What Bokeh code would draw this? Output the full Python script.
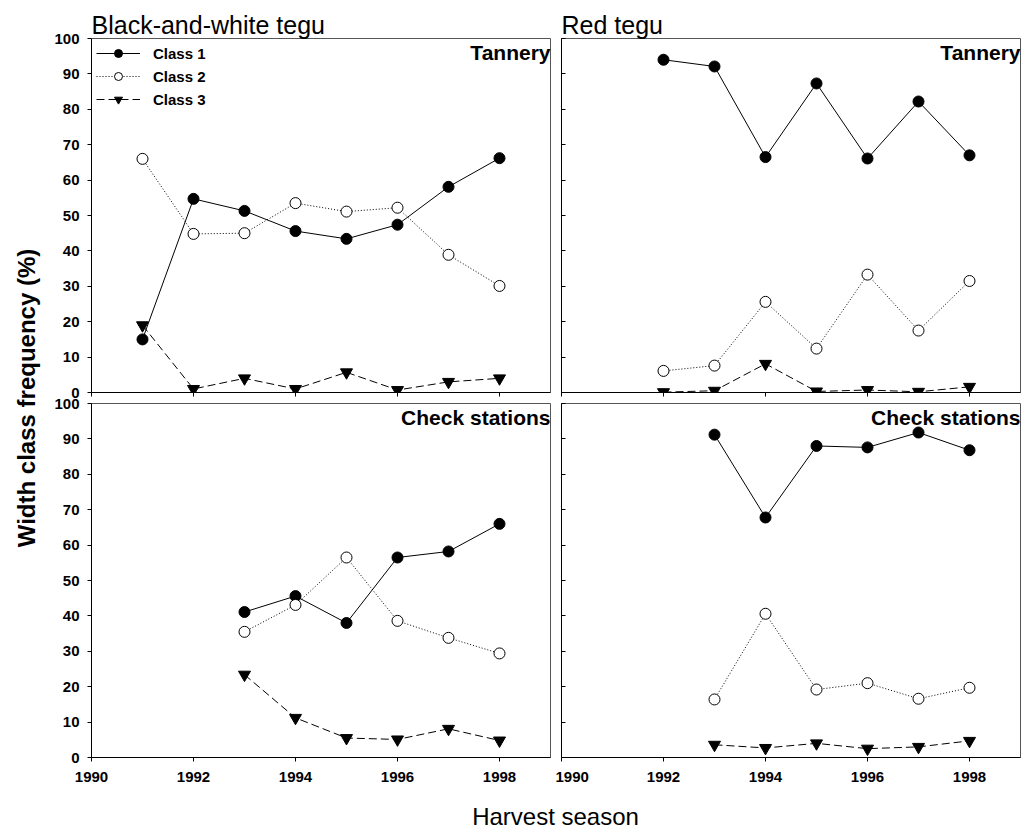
from math import pi
from bokeh.plotting import figure
from bokeh.layouts import row, column
from bokeh.models import Range1d, FixedTicker, Label, Legend, LegendItem
from bokeh.embed import file_html
from bokeh.resources import INLINE

# ---------------- data ----------------
years_bw_tannery = [1991, 1992, 1993, 1994, 1995, 1996, 1997, 1998]
bw_tannery_c1 = [15.0, 54.7, 51.3, 45.6, 43.4, 47.4, 58.1, 66.2]
bw_tannery_c2 = [66.0, 44.8, 45.0, 53.5, 51.1, 52.2, 38.9, 30.1]
bw_tannery_c3 = [19.0, 1.0, 4.0, 1.0, 5.7, 0.7, 3.0, 4.0]

years_red_tannery = [1992, 1993, 1994, 1995, 1996, 1997, 1998]
red_tannery_c1 = [94.0, 92.1, 66.5, 87.3, 66.1, 82.2, 67.0]
red_tannery_c2 = [6.1, 7.6, 25.6, 12.4, 33.3, 17.5, 31.5]
red_tannery_c3 = [0.1, 0.5, 8.1, 0.3, 0.7, 0.2, 1.6]

years_check = [1993, 1994, 1995, 1996, 1997, 1998]
bw_check_c1 = [41.1, 45.6, 38.0, 56.5, 58.2, 66.0]
bw_check_c2 = [35.5, 43.1, 56.5, 38.6, 33.8, 29.4]
bw_check_c3 = [23.4, 11.2, 5.5, 5.1, 8.1, 4.8]

red_check_c1 = [91.2, 67.8, 88.0, 87.6, 91.8, 86.8]
red_check_c2 = [16.4, 40.6, 19.2, 21.0, 16.6, 19.7]
red_check_c3 = [3.6, 2.7, 4.0, 2.5, 3.0, 4.7]

x_ticks = [1990, 1992, 1994, 1996, 1998]
y_ticks = [0, 10, 20, 30, 40, 50, 60, 70, 80, 90, 100]
class_names = ["Class 1", "Class 2", "Class 3"]

FONT = "Liberation Sans"
FRAME_W, FRAME_H = 459, 354


def make_panel(years, c1, c2, c3, title, tag, top, left, legend=False):
    p = figure(frame_width=FRAME_W, frame_height=FRAME_H,
               x_range=Range1d(1990, 1999), y_range=Range1d(0, 100),
               output_backend="svg", toolbar_location=None, tools="")
    p.min_border_left = 43 if left else 6
    p.min_border_right = 5 if left else 1
    p.min_border_top = 38 if top else 5
    p.min_border_bottom = 6 if top else 40
    p.grid.visible = False
    p.outline_line_color = "#555555"
    p.outline_line_width = 1

    for ax in (p.xaxis[0], p.yaxis[0]):
        ax.axis_line_color = "black"
        ax.axis_line_width = 1
        ax.major_tick_line_color = "black"
        ax.minor_tick_line_color = "black"
        ax.major_label_text_font = FONT
        ax.major_label_text_font_style = "bold"
        ax.major_label_text_font_size = "15px"
        ax.major_label_text_color = "black"

    # x axis: labelled only on the bottom row (unlabelled ticks drawn as minor ticks)
    if top:
        p.xaxis.ticker = FixedTicker(ticks=[], minor_ticks=x_ticks)
        p.xaxis.minor_tick_in = 0
        p.xaxis.minor_tick_out = 4
        p.xaxis.major_label_standoff = 0
    else:
        p.xaxis.ticker = FixedTicker(ticks=x_ticks, minor_ticks=[])
        p.xaxis.major_tick_in = 0
        p.xaxis.major_tick_out = 4
        p.xaxis.major_label_standoff = 10

    # y axis: labelled only on the left column; inside ticks on the right column
    if left:
        p.yaxis.ticker = FixedTicker(ticks=y_ticks, minor_ticks=[])
        p.yaxis.major_tick_in = 0
        p.yaxis.major_tick_out = 4
        p.yaxis.major_label_standoff = 8
    else:
        p.yaxis.ticker = FixedTicker(ticks=[], minor_ticks=y_ticks)
        p.yaxis.minor_tick_in = 4
        p.yaxis.minor_tick_out = 0
        p.yaxis.major_label_standoff = 0

    if title:
        p.title.text = title
        p.title.text_font = FONT
        p.title.text_font_style = "normal"
        p.title.text_font_size = "25px"
        p.title.text_color = "black"
        p.title.align = "left"
        p.title.standoff = 0
        p.title.offset = 0

    l1 = p.line(years, c1, line_color="black", line_width=1)
    s1 = p.scatter(years, c1, marker="circle", size=11, fill_color="black", line_color="black")
    l2 = p.line(years, c2, line_color="black", line_width=1, line_dash="1 2")
    s2 = p.scatter(years, c2, marker="circle", size=11, fill_color="white", line_color="black", line_width=1)
    l3 = p.line(years, c3, line_color="black", line_width=1, line_dash="8 4")
    s3 = p.scatter(years, c3, marker="inverted_triangle", size=12, fill_color="black", line_color="black")

    p.add_layout(Label(x=1999, y=100, text=tag, text_align="right", text_baseline="top",
                       y_offset=-2, text_font=FONT, text_font_style="bold",
                       text_font_size="21px", text_color="black"))

    if legend:
        items = [LegendItem(label=class_names[0], renderers=[l1, s1]),
                 LegendItem(label=class_names[1], renderers=[l2, s2]),
                 LegendItem(label=class_names[2], renderers=[l3, s3])]
        lg = Legend(items=items, location="top_left", border_line_color=None,
                    background_fill_alpha=0, label_text_font=FONT,
                    label_text_font_style="bold", label_text_font_size="15px",
                    label_text_color="black",
                    glyph_width=44, glyph_height=20, label_standoff=13, spacing=3,
                    padding=6, margin=5, label_height=20)
        p.add_layout(lg)
    return p


tl = make_panel(years_bw_tannery, bw_tannery_c1, bw_tannery_c2, bw_tannery_c3,
                "Black-and-white tegu", "Tannery", top=True, left=True, legend=True)
tr = make_panel(years_red_tannery, red_tannery_c1, red_tannery_c2, red_tannery_c3,
                "Red tegu", "Tannery", top=True, left=False)
bl = make_panel(years_check, bw_check_c1, bw_check_c2, bw_check_c3,
                None, "Check stations", top=False, left=True)
br = make_panel(years_check, red_check_c1, red_check_c2, red_check_c3,
                None, "Check stations", top=False, left=False)

TOTAL_H = 831
YL_W = 48
XL_W = 507 + 466
XL_H = 34


def blank(w, h):
    f = figure(width=w, height=h, x_range=Range1d(0, w), y_range=Range1d(0, h),
               output_backend="svg", toolbar_location=None, tools="",
               min_border=0, title=None)
    f.axis.visible = False
    f.grid.visible = False
    f.outline_line_color = None
    return f


ylab = blank(YL_W, TOTAL_H)
ylab.add_layout(Label(x=26, y=TOTAL_H - 397.5, text="Width class frequency (%)", angle=pi / 2,
                      text_align="center", text_baseline="middle", text_font=FONT,
                      text_font_style="bold", text_font_size="24px", text_color="black"))

xlab = blank(XL_W, XL_H)
xlab.add_layout(Label(x=507, y=XL_H / 2 - 2, text="Harvest season", text_align="center",
                      text_baseline="middle", text_font=FONT,
                      text_font_size="24px", text_color="black"))

layout = row(ylab, column(row(tl, tr), row(bl, br), xlab))

open("out.html", "w").write(file_html(layout, INLINE))
